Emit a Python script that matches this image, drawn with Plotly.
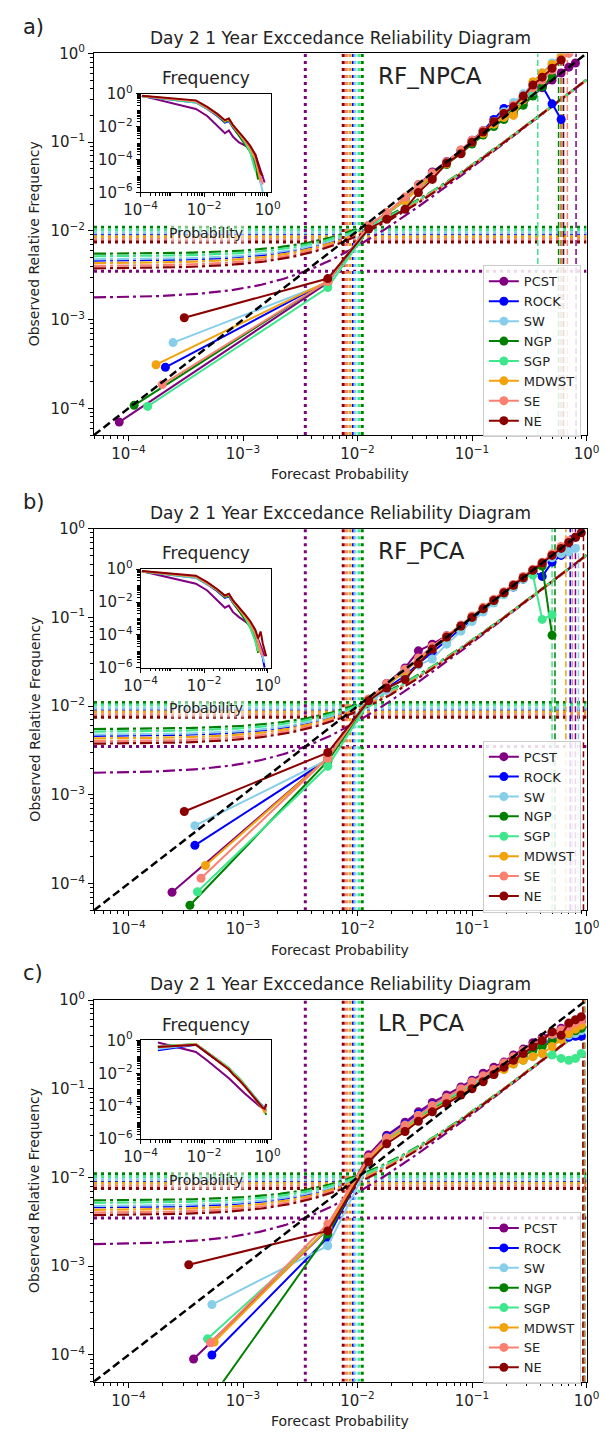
import numpy as np
import plotly.graph_objects as go

W, H = 610, 1439

REGIONS = ["PCST", "ROCK", "SW", "NGP", "SGP", "MDWST", "SE", "NE"]
COLORS = {"PCST": "#800080", "ROCK": "#0000ff", "SW": "#87ceeb", "NGP": "#008000",
          "SGP": "#3ee68c", "MDWST": "#f2a20c", "SE": "#fa8072", "NE": "#8b0000"}

# regional climatological exceedance frequency
CLIMO = {"PCST": 0.0035, "ROCK": 0.0092, "SW": 0.0095, "NGP": 0.0110,
         "SGP": 0.0103, "MDWST": 0.0086, "SE": 0.0080, "NE": 0.0075}

# mean forecast probability of each bin above the lowest one
FCST_BINS = [0.0055, 0.0125, 0.018, 0.026, 0.034, 0.045, 0.06, 0.08, 0.10, 0.125, 0.155,
             0.19, 0.23, 0.28, 0.34, 0.41, 0.5, 0.6, 0.7, 0.8, 0.9]

# ---------------- RF_NPCA ----------------
RF_NPCA_LOW_X = {"PCST": 8.3e-5, "ROCK": 2.1e-4, "SW": 2.45e-4, "NGP": 1.12e-4,
                 "SGP": 1.47e-4, "MDWST": 1.74e-4, "SE": 1.97e-4, "NE": 3.07e-4}
RF_NPCA_LOW_Y = {"PCST": 7.0e-5, "ROCK": 2.9e-4, "SW": 5.5e-4, "NGP": 1.08e-4,
                 "SGP": 1.05e-4, "MDWST": 3.1e-4, "SE": 1.85e-4, "NE": 1.05e-3}
RF_NPCA_OBS = {
    "PCST": [0.0026, 0.011, 0.0155, 0.023, 0.033, 0.046, 0.06, 0.08, 0.1, 0.125, 0.155, 0.19,
             0.23, 0.28, 0.34, 0.41, 0.5, 0.6, 0.7, 0.78],
    "ROCK": [0.0027, 0.0115, 0.016, 0.023, 0.032, 0.044, 0.06, 0.08, 0.105, 0.135, 0.18, 0.24,
             0.27, 0.33, 0.4, 0.43, 0.27, 0.18],
    "SW": [0.0026, 0.011, 0.016, 0.022, 0.031, 0.042, 0.057, 0.078, 0.1, 0.13, 0.17, 0.22,
           0.28, 0.35, 0.45, 0.6, 0.78, 0.95],
    "NGP": [0.0027, 0.011, 0.0155, 0.022, 0.03, 0.041, 0.056, 0.075, 0.095, 0.12, 0.15, 0.18,
            0.21, 0.26, 0.33, 0.42, 0.55],
    "SGP": [0.0023, 0.0105, 0.0155, 0.022, 0.031, 0.043, 0.058, 0.078, 0.1, 0.13, 0.16, 0.2,
            0.25, 0.3, 0.37],
    "MDWST": [0.0027, 0.0115, 0.016, 0.022, 0.03, 0.042, 0.057, 0.076, 0.1, 0.125, 0.16, 0.19,
              0.2, 0.3, 0.48, 0.6, 0.75, 0.9],
    "SE": [0.0027, 0.0115, 0.016, 0.024, 0.033, 0.045, 0.06, 0.082, 0.105, 0.135, 0.17, 0.21,
           0.26, 0.33, 0.41, 0.5, 0.65, 0.85, 1.0],
    "NE": [0.0029, 0.0105, 0.0135, 0.0175, 0.027, 0.038, 0.058, 0.074, 0.1, 0.13, 0.17, 0.21,
           0.25, 0.33, 0.44, 0.54, 0.68, 0.84],
}
RF_NPCA_MAXFC = {"PCST": 0.81, "ROCK": 0.6, "SW": 0.62, "NGP": 0.57,
                 "SGP": 0.375, "MDWST": 0.6, "SE": 0.68, "NE": 0.63}

# ---------------- RF_PCA ----------------
RF_PCA_LOW_X = {"PCST": 2.4e-4, "ROCK": 3.8e-4, "SW": 3.8e-4, "NGP": 3.44e-4,
                "SGP": 4.0e-4, "MDWST": 4.7e-4, "SE": 4.3e-4, "NE": 3.07e-4}
RF_PCA_LOW_Y = {"PCST": 8.0e-5, "ROCK": 2.7e-4, "SW": 4.5e-4, "NGP": 5.7e-5,
                "SGP": 8.1e-5, "MDWST": 1.6e-4, "SE": 1.15e-4, "NE": 6.5e-4}
RF_PCA_OBS = {
    "PCST": [0.0026, 0.012, 0.018, 0.027, 0.042, 0.05, 0.062, 0.08, 0.1, 0.125, 0.155, 0.19,
             0.23, 0.28, 0.34, 0.41, 0.5, 0.6, 0.7, 0.8],
    "ROCK": [0.0025, 0.0115, 0.016, 0.022, 0.03, 0.04, 0.055, 0.075, 0.095, 0.12, 0.15, 0.185,
             0.22, 0.27, 0.33, 0.29, 0.42, 0.5, 0.55],
    "SW": [0.0025, 0.011, 0.015, 0.021, 0.029, 0.034, 0.05, 0.07, 0.09, 0.115, 0.145, 0.18,
           0.22, 0.27, 0.33, 0.4, 0.47, 0.52, 0.55, 0.6],
    "NGP": [0.0024, 0.0115, 0.017, 0.025, 0.034, 0.045, 0.06, 0.08, 0.1, 0.125, 0.155, 0.19,
            0.23, 0.28, 0.34, 0.38, 0.063],
    "SGP": [0.0021, 0.011, 0.017, 0.025, 0.034, 0.046, 0.06, 0.08, 0.1, 0.125, 0.155, 0.19,
            0.23, 0.28, 0.3, 0.095, 0.107],
    "MDWST": [0.0026, 0.012, 0.017, 0.025, 0.033, 0.044, 0.06, 0.08, 0.1, 0.125, 0.155, 0.19,
              0.23, 0.28, 0.34, 0.41, 0.52, 0.62],
    "SE": [0.0026, 0.012, 0.018, 0.026, 0.035, 0.047, 0.062, 0.082, 0.104, 0.13, 0.16, 0.195,
           0.235, 0.29, 0.35, 0.42, 0.52, 0.63, 0.73],
    "NE": [0.003, 0.0115, 0.016, 0.02, 0.03, 0.044, 0.06, 0.08, 0.1, 0.125, 0.155, 0.19,
           0.23, 0.28, 0.34, 0.41, 0.5, 0.6, 0.7, 0.8, 0.9],
}
RF_PCA_MAXFC = {"PCST": 0.8, "ROCK": 0.72, "SW": 0.85, "NGP": 0.53,
                "SGP": 0.5, "MDWST": 0.66, "SE": 0.75, "NE": 0.94}

# ---------------- LR_PCA ----------------
LR_PCA_LOW_X = {"PCST": 3.7e-4, "ROCK": 5.35e-4, "SW": 5.35e-4, "NGP": 5.6e-4,
                "SGP": 4.9e-4, "MDWST": 5.6e-4, "SE": 5.2e-4, "NE": 3.36e-4}
LR_PCA_LOW_Y = {"PCST": 9.0e-5, "ROCK": 1.0e-4, "SW": 3.7e-4, "NGP": 3.6e-5,
                "SGP": 1.52e-4, "MDWST": 1.4e-4, "SE": 1.37e-4, "NE": 1.04e-3}
LR_PCA_OBS = {
    "PCST": [0.0026, 0.018, 0.03, 0.042, 0.055, 0.07, 0.085, 0.105, 0.125, 0.15, 0.175, 0.2,
             0.24, 0.28, 0.33, 0.38, 0.43, 0.48, 0.52, 0.55, 0.57],
    "ROCK": [0.0021, 0.016, 0.029, 0.04, 0.052, 0.066, 0.08, 0.1, 0.12, 0.14, 0.16, 0.19,
             0.22, 0.25, 0.29, 0.32, 0.35, 0.37, 0.38, 0.39, 0.39],
    "SW": [0.0017, 0.014, 0.026, 0.037, 0.05, 0.064, 0.078, 0.097, 0.115, 0.135, 0.155, 0.18,
           0.21, 0.24, 0.28, 0.31, 0.34, 0.37, 0.4, 0.42, 0.45],
    "NGP": [0.0023, 0.016, 0.026, 0.036, 0.047, 0.06, 0.074, 0.09, 0.105, 0.125, 0.145, 0.17,
            0.2, 0.23, 0.27, 0.3, 0.34, 0.38, 0.42, 0.45, 0.48],
    "SGP": [0.0026, 0.016, 0.027, 0.037, 0.048, 0.062, 0.076, 0.094, 0.11, 0.13, 0.15, 0.17,
            0.19, 0.21, 0.23, 0.25, 0.24, 0.22, 0.21, 0.22, 0.25],
    "MDWST": [0.0027, 0.016, 0.026, 0.035, 0.045, 0.057, 0.07, 0.088, 0.105, 0.125, 0.145, 0.165,
              0.19, 0.21, 0.23, 0.25, 0.3, 0.36, 0.42, 0.47, 0.52],
    "SE": [0.003, 0.017, 0.028, 0.039, 0.05, 0.065, 0.08, 0.1, 0.12, 0.14, 0.165, 0.195,
           0.23, 0.27, 0.31, 0.36, 0.41, 0.46, 0.5, 0.55, 0.6],
    "NE": [0.0025, 0.015, 0.024, 0.033, 0.043, 0.055, 0.068, 0.085, 0.1, 0.12, 0.145, 0.175,
           0.21, 0.25, 0.3, 0.35, 0.44, 0.4, 0.55, 0.6, 0.65],
}
LR_PCA_MAXFC = {"PCST": 0.96, "ROCK": 0.95, "SW": 0.94, "NGP": 0.96,
                "SGP": 0.93, "MDWST": 0.95, "SE": 0.94, "NE": 0.93}

# ---------------- forecast frequency (inset) ----------------
INSET_BINS_RF = [1.1e-4, 0.0055, 0.0125, 0.026, 0.045, 0.06, 0.08, 0.125, 0.19, 0.28, 0.41,
                 0.5, 0.6, 0.7, 0.8, 0.9]
INSET_BINS_LR = [3.5e-4, 0.0055, 0.0125, 0.026, 0.045, 0.06, 0.08, 0.125, 0.19, 0.28, 0.41,
                 0.5, 0.6, 0.7, 0.8, 0.9]

RF_NPCA_FREQ = {
    "PCST": [0.75, 0.12, 0.045, 0.012, 0.004, 0.006, 0.0025, 0.0011, 7e-4, 5e-4, 2e-4, 6e-5, 2e-5, 8e-6, 4e-6],
    "ROCK": [0.72, 0.3, 0.12, 0.045, 0.018, 0.022, 0.009, 0.003, 0.0011, 4e-4, 8e-5, 2e-5, 4e-6],
    "SW": [0.72, 0.3, 0.12, 0.05, 0.02, 0.025, 0.01, 0.0035, 0.0012, 4e-4, 1e-4, 2e-5, 3e-6, 1e-6],
    "NGP": [0.73, 0.33, 0.13, 0.05, 0.02, 0.026, 0.01, 0.003, 0.001, 3e-4, 4e-5, 6e-6],
    "SGP": [0.73, 0.32, 0.13, 0.055, 0.024, 0.03, 0.012, 0.004, 0.0012, 3e-4, 2e-5],
    "MDWST": [0.74, 0.36, 0.14, 0.055, 0.022, 0.03, 0.011, 0.004, 0.0014, 5e-4, 1e-4, 2e-5, 5e-6],
    "SE": [0.75, 0.36, 0.14, 0.056, 0.024, 0.03, 0.012, 0.0045, 0.0016, 6e-4, 1.4e-4, 3e-5, 8e-6, 3e-6],
    "NE": [0.76, 0.4, 0.16, 0.06, 0.025, 0.032, 0.013, 0.005, 0.0018, 7e-4, 2e-4, 5e-5, 1.5e-5, 1e-5],
}
RF_PCA_FREQ = {
    "PCST": [0.75, 0.13, 0.05, 0.013, 0.0045, 0.006, 0.0025, 0.0012, 7e-4, 4e-4, 1.5e-4, 5e-5, 2e-5, 1e-5, 5e-6],
    "ROCK": [0.72, 0.3, 0.12, 0.045, 0.018, 0.022, 0.009, 0.003, 0.0011, 4e-4, 1e-4, 3e-5, 1e-5, 4e-6, 1e-6],
    "SW": [0.72, 0.3, 0.12, 0.05, 0.02, 0.025, 0.01, 0.0035, 0.0012, 4e-4, 1e-4, 3e-5, 1e-5, 5e-6, 2e-6],
    "NGP": [0.73, 0.33, 0.13, 0.05, 0.02, 0.026, 0.01, 0.003, 0.001, 3e-4, 5e-5, 8e-6],
    "SGP": [0.73, 0.32, 0.13, 0.055, 0.024, 0.03, 0.012, 0.004, 0.0012, 3e-4, 4e-5, 1e-5],
    "MDWST": [0.74, 0.36, 0.14, 0.055, 0.022, 0.03, 0.011, 0.004, 0.0014, 5e-4, 1.2e-4, 3e-5, 8e-6],
    "SE": [0.75, 0.36, 0.14, 0.056, 0.024, 0.03, 0.012, 0.0045, 0.0016, 6e-4, 1.5e-4, 4e-5, 1.2e-5, 5e-6],
    "NE": [0.76, 0.4, 0.16, 0.06, 0.025, 0.032, 0.013, 0.005, 0.0018, 7e-4, 2e-4, 6e-5, 1.6e-4, 3e-5, 1e-5, 5e-6],
}
LR_PCA_FREQ = {
    "PCST": [0.76, 0.2, 0.06, 0.02, 0.008, 0.005, 0.0028, 0.0013, 6e-4, 3e-4, 1.6e-4, 1.2e-4, 9e-5, 7e-5, 6e-5, 1.3e-4],
    "ROCK": [0.25, 0.55, 0.17, 0.06, 0.028, 0.019, 0.01, 0.0045, 0.0018, 8e-4, 3.5e-4, 2.2e-4, 1.4e-4, 1e-4, 8e-5, 5e-5],
    "SW": [0.3, 0.6, 0.19, 0.065, 0.03, 0.02, 0.011, 0.005, 0.002, 8e-4, 3e-4, 2e-4, 1.3e-4, 9e-5, 7e-5, 1e-4],
    "NGP": [0.45, 0.58, 0.19, 0.065, 0.03, 0.021, 0.011, 0.005, 0.002, 8e-4, 3e-4, 1.8e-4, 1.2e-4, 8e-5, 5e-5, 3e-5],
    "SGP": [0.45, 0.6, 0.2, 0.07, 0.033, 0.022, 0.012, 0.0052, 0.002, 8e-4, 3e-4, 1.9e-4, 1.2e-4, 9e-5, 7e-5, 6e-5],
    "MDWST": [0.4, 0.58, 0.18, 0.062, 0.028, 0.019, 0.01, 0.0045, 0.0018, 7e-4, 2.8e-4, 1.8e-4, 1.1e-4, 7e-5, 4e-5, 6e-5],
    "SE": [0.42, 0.56, 0.18, 0.06, 0.027, 0.018, 0.0095, 0.0042, 0.0017, 7e-4, 2.7e-4, 1.7e-4, 1.1e-4, 8e-5, 6e-5, 1.1e-4],
    "NE": [0.4, 0.55, 0.17, 0.058, 0.026, 0.017, 0.009, 0.004, 0.0016, 6.5e-4, 2.5e-4, 1.6e-4, 1.1e-4, 8e-5, 7e-5, 1.4e-4],
}

TITLE = "Day 2 1 Year Exccedance Reliability Diagram"
MAIN_TICKS = [1e-4, 1e-3, 1e-2, 1e-1, 1.0]
MAIN_TICKTEXT = ["10<sup>\u22124</sup>", "10<sup>\u22123</sup>", "10<sup>\u22122</sup>",
                 "10<sup>\u22121</sup>", "10<sup>0</sup>"]
INSET_XTICKS = [1e-4, 1e-2, 1.0]
INSET_XTEXT = ["10<sup>\u22124</sup>", "10<sup>\u22122</sup>", "10<sup>0</sup>"]
INSET_YTICKS = [1e-6, 1e-4, 1e-2, 1.0]
INSET_YTEXT = ["10<sup>\u22126</sup>", "10<sup>\u22124</sup>", "10<sup>\u22122</sup>", "10<sup>0</sup>"]

PANELS = [
    dict(letter="a)", model="RF_NPCA", low_x=RF_NPCA_LOW_X, low_y=RF_NPCA_LOW_Y, obs=RF_NPCA_OBS,
         maxfc=RF_NPCA_MAXFC, freq=RF_NPCA_FREQ, fbins=INSET_BINS_RF, top=43, bottom=430),
    dict(letter="b)", model="RF_PCA", low_x=RF_PCA_LOW_X, low_y=RF_PCA_LOW_Y, obs=RF_PCA_OBS,
         maxfc=RF_PCA_MAXFC, freq=RF_PCA_FREQ, fbins=INSET_BINS_RF, top=525, bottom=912),
    dict(letter="c)", model="LR_PCA", low_x=LR_PCA_LOW_X, low_y=LR_PCA_LOW_Y, obs=LR_PCA_OBS,
         maxfc=LR_PCA_MAXFC, freq=LR_PCA_FREQ, fbins=INSET_BINS_LR, top=1003, bottom=1390),
]

FONT = "DejaVu Sans"
TXT = "#222222"
AX_LO = 5e-5
LOG_RANGE = [np.log10(AX_LO), 0.0]
X_LEFT, X_RIGHT = 81, 599
IN_LEFT, IN_RIGHT = 130, 267


def px_x(v):
    return v / W


def px_y(v):
    return 1 - v / H


def minor_vals(d0, d1):
    return [m * 10.0 ** d for d in range(d0, d1) for m in range(2, 10)]


fig = go.Figure()
annotations = []
ns_x = np.logspace(np.log10(AX_LO), 0, 160)

for i, cfg in enumerate(PANELS):
    k = i + 1
    xa, ya = f"x{k}", f"y{k}"
    xi, yi = f"x{k + 3}", f"y{k + 3}"
    leg = "legend" if k == 1 else f"legend{k}"

    # climatology lines (horizontal, then vertical)
    for r in REGIONS:
        c = CLIMO[r]
        fig.add_trace(go.Scatter(x=[AX_LO, 1.0], y=[c, c], mode="lines", xaxis=xa, yaxis=ya,
                                 line=dict(color=COLORS[r], width=3, dash="3px,4px"),
                                 showlegend=False, hoverinfo="skip"))
    for r in REGIONS:
        c = CLIMO[r]
        fig.add_trace(go.Scatter(x=[c, c], y=[AX_LO, 1.0], mode="lines", xaxis=xa, yaxis=ya,
                                 line=dict(color=COLORS[r], width=3, dash="3px,4px"),
                                 showlegend=False, hoverinfo="skip"))
    # no-skill lines, halfway between climatology and perfect reliability
    for r in REGIONS:
        c = CLIMO[r]
        fig.add_trace(go.Scatter(x=ns_x, y=(ns_x + c) / 2.0, mode="lines", xaxis=xa, yaxis=ya,
                                 line=dict(color=COLORS[r], width=2.2, dash="12px,4px,3px,4px"),
                                 showlegend=False, hoverinfo="skip"))
    # largest issued forecast probability
    for r in REGIONS:
        m = cfg["maxfc"][r]
        fig.add_trace(go.Scatter(x=[m, m], y=[AX_LO, 1.0], mode="lines", xaxis=xa, yaxis=ya,
                                 line=dict(color=COLORS[r], width=1.5, dash="6px,3px"),
                                 showlegend=False, hoverinfo="skip"))
    # reliability curves
    for r in REGIONS:
        obs = cfg["obs"][r]
        xs = [cfg["low_x"][r]] + FCST_BINS[:len(obs)]
        ys = [cfg["low_y"][r]] + obs
        fig.add_trace(go.Scatter(x=xs, y=ys, mode="lines+markers", name=r, xaxis=xa, yaxis=ya,
                                 line=dict(color=COLORS[r], width=2),
                                 marker=dict(color=COLORS[r], size=9, symbol="circle"),
                                 legend=leg, showlegend=True, hoverinfo="skip"))
    # perfect reliability
    fig.add_trace(go.Scatter(x=[AX_LO, 1.0], y=[AX_LO, 1.0], mode="lines", xaxis=xa, yaxis=ya,
                             line=dict(color="black", width=2.5, dash="8px,4px"),
                             showlegend=False, hoverinfo="skip"))
    # inset: forecast frequency
    for r in REGIONS:
        f = cfg["freq"][r]
        fig.add_trace(go.Scatter(x=cfg["fbins"][:len(f)], y=f, mode="lines", xaxis=xi, yaxis=yi,
                                 line=dict(color=COLORS[r], width=2),
                                 showlegend=False, hoverinfo="skip"))

    top, bottom = cfg["top"], cfg["bottom"]
    main_common = dict(type="log", range=LOG_RANGE, showgrid=False, zeroline=False,
                       showline=True, linecolor="black", linewidth=1, mirror=True,
                       ticks="outside", ticklen=5, tickwidth=1, tickcolor="black",
                       tickmode="array", tickvals=MAIN_TICKS, ticktext=MAIN_TICKTEXT,
                       tickfont=dict(family=FONT, size=15, color=TXT),
                       minor=dict(ticks="outside", ticklen=3, tickwidth=0.8, tickcolor="black",
                                  tickmode="array", tickvals=minor_vals(-5, 0), showgrid=False))
    fig.update_layout({
        f"xaxis{k}": dict(main_common, domain=[px_x(X_LEFT), px_x(X_RIGHT)], anchor=ya),
        f"yaxis{k}": dict(main_common, domain=[px_y(bottom), px_y(top)], anchor=xa),
    })

    in_top = top + 41
    in_bot = in_top + 100
    inset_common = dict(type="log", showgrid=False, zeroline=False, showline=True,
                        linecolor="black", linewidth=1, mirror=True, ticks="outside",
                        ticklen=4, tickwidth=1, tickcolor="black", tickmode="array",
                        tickfont=dict(family=FONT, size=15, color=TXT))
    fig.update_layout({
        f"xaxis{k + 3}": dict(inset_common, range=[-4, 0.1],
                              domain=[px_x(IN_LEFT), px_x(IN_RIGHT)], anchor=yi,
                              tickvals=INSET_XTICKS, ticktext=INSET_XTEXT,
                              minor=dict(ticks="outside", ticklen=2.5, tickwidth=0.8,
                                         tickcolor="black", tickmode="array",
                                         tickvals=minor_vals(-4, 0))),
        f"yaxis{k + 3}": dict(inset_common, range=[-6, 0],
                              domain=[px_y(in_bot), px_y(in_top)], anchor=xi,
                              tickvals=INSET_YTICKS, ticktext=INSET_YTEXT,
                              minor=dict(ticks="outside", ticklen=2.5, tickwidth=0.8,
                                         tickcolor="black", tickmode="array",
                                         tickvals=minor_vals(-6, 0) + [1e-5, 1e-3, 1e-1])),
    })

    legend_top = top + 215
    fig.update_layout({
        leg: dict(x=px_x(593), xanchor="right", y=px_y(legend_top), yanchor="top",
                  xref="paper", yref="paper", bgcolor="rgba(255,255,255,0.85)",
                  bordercolor="#cccccc", borderwidth=1, itemwidth=30,
                  font=dict(family=FONT, size=13, color=TXT), traceorder="normal"),
    })

    cx = (X_LEFT + X_RIGHT) / 2
    annotations += [
        dict(text=cfg["letter"], x=px_x(4), y=px_y(top - 27), xanchor="left", yanchor="middle",
             font=dict(family=FONT, size=21, color=TXT)),
        dict(text=TITLE, x=px_x(cx), y=px_y(top - 16), xanchor="center", yanchor="middle",
             font=dict(family=FONT, size=17, color=TXT)),
        dict(text=cfg["model"], x=px_x(378), y=px_y(top + 23), xanchor="left", yanchor="middle",
             font=dict(family=FONT, size=23, color=TXT)),
        dict(text="Frequency", x=px_x((IN_LEFT + IN_RIGHT) / 2), y=px_y(in_top - 16),
             xanchor="center", yanchor="middle", font=dict(family=FONT, size=17, color=TXT)),
        dict(text="Probability", x=px_x((IN_LEFT + IN_RIGHT) / 2), y=px_y(in_top + 141),
             xanchor="center", yanchor="middle", bgcolor="rgba(255,255,255,0.5)",
             font=dict(family=FONT, size=14, color=TXT)),
        dict(text="Forecast Probability", x=px_x(cx), y=px_y(bottom + 40), xanchor="center",
             yanchor="middle", font=dict(family=FONT, size=14, color=TXT)),
        dict(text="Observed Relative Frequency", x=px_x(18), y=px_y((top + bottom) / 2),
             xanchor="center", yanchor="middle", textangle=-90,
             font=dict(family=FONT, size=14, color=TXT)),
    ]

for a in annotations:
    a.update(xref="paper", yref="paper", showarrow=False)

fig.update_layout(width=W, height=H, margin=dict(l=0, r=0, t=0, b=0),
                  paper_bgcolor="white", plot_bgcolor="white",
                  annotations=annotations, showlegend=True)

fig.write_html("out.html")
